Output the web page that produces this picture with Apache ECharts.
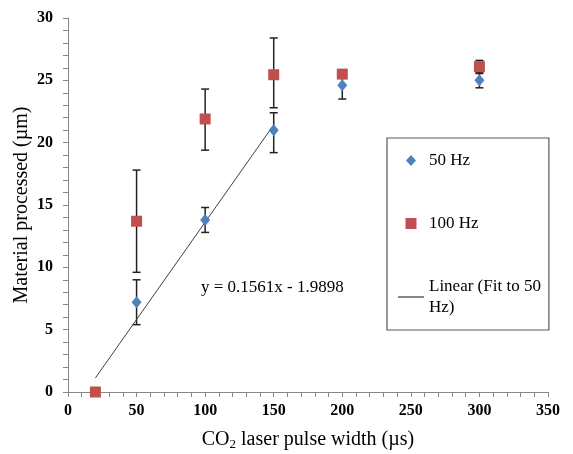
<!DOCTYPE html>
<html>
<head>
<meta charset="utf-8">
<script src="https://cdn.jsdelivr.net/npm/echarts@6/dist/echarts.min.js"></script>
<style>html,body{margin:0;padding:0;background:#fff}#c{width:573px;height:454px}</style>
</head>
<body>
<div id="c"></div>
<script>
// ---- data ----
const x50 = [50, 100, 150, 200, 300];
const y50 = [7.2, 13.8, 21.0, 24.6, 25.0];
const err50Low = [5.4, 12.8, 19.2, 23.5, 24.4];
const err50High = [9.0, 14.8, 22.4, 25.4, 25.6];

const x100 = [20, 50, 100, 150, 200, 300];
const y100 = [0, 13.7, 21.9, 25.45, 25.5, 26.1];
const err100Low = [null, 9.6, 19.4, 22.8, null, 25.55];
const err100High = [null, 17.8, 24.3, 28.4, null, 26.6];

const fitX = [20, 150];
const fitY = [1.13, 21.43];
const fitLabel = 'y = 0.1561x - 1.9898';

const xTicks = { min: 0, max: 350, interval: 50 };
const yTicks = { min: 0, max: 30, interval: 5 };

// ---- build ----
const pts = (xs, ys) => xs.map((x, i) => [x, ys[i]]);
const errs = (xs, lo, hi) => xs.map((x, i) => [x, lo[i], hi[i]]).filter(d => d[1] != null && d[2] != null);

const FONT = '"Liberation Serif", "Times New Roman", serif';

function errRender(params, api) {
  const x = api.value(0), lo = api.value(1), hi = api.value(2);
  const a = api.coord([x, lo]), b = api.coord([x, hi]);
  const c = 4;
  const st = { stroke: '#222', lineWidth: 1.5 };
  return {
    type: 'group',
    children: [
      { type: 'line', shape: { x1: a[0], y1: a[1], x2: b[0], y2: b[1] }, style: st },
      { type: 'line', shape: { x1: a[0] - c, y1: a[1], x2: a[0] + c, y2: a[1] }, style: st },
      { type: 'line', shape: { x1: b[0] - c, y1: b[1], x2: b[0] + c, y2: b[1] }, style: st }
    ]
  };
}

const axisCommon = {
  axisLine: { show: true, lineStyle: { color: '#868686', width: 1 } },
  axisTick: { show: true, inside: false, length: 5, lineStyle: { color: '#868686' } },
  minorTick: { show: true, splitNumber: 5, length: 5, lineStyle: { color: '#868686' } },
  splitLine: { show: false },
  axisLabel: { color: '#000', fontFamily: FONT, fontWeight: 'bold', fontSize: 16 },
  nameTextStyle: { color: '#000', fontFamily: FONT, fontSize: 20 },
  nameMoveOverlap: false
};

// legend icons padded to the full item width so the marker keeps its shape
const ICON_DIAMOND = 'path://M0,5.5L0.01,5.5L0,5.51Z M26,5.5L25.99,5.5L26,5.51Z M13,0L18,5.5L13,11L8,5.5Z';
const ICON_SQUARE = 'path://M0,5.5L0.01,5.5L0,5.51Z M26,5.5L25.99,5.5L26,5.51Z M7.5,0H18.5V11H7.5Z';
const ICON_LINE = 'path://M0,0H26V1.1H0Z';

const chart = echarts.init(document.getElementById('c'));
chart.setOption({
  animation: false,
  backgroundColor: '#fff',
  grid: { left: 68, right: 25, top: 18, bottom: 62, containLabel: false, outerBoundsMode: 'none' },
  xAxis: Object.assign({}, axisCommon, {
    type: 'value', min: xTicks.min, max: xTicks.max, interval: xTicks.interval,
    name: 'CO{sub|2} laser pulse width (µs)', nameLocation: 'middle', nameGap: 36,
    nameTextStyle: { color: '#000', fontFamily: FONT, fontSize: 20,
      rich: { sub: { fontFamily: FONT, fontSize: 13, verticalAlign: 'bottom', padding: [10, 0, 0, 0], color: '#000' } } },
    axisLabel: Object.assign({}, axisCommon.axisLabel, { margin: 11 })
  }),
  yAxis: Object.assign({}, axisCommon, {
    type: 'value', min: yTicks.min, max: yTicks.max, interval: yTicks.interval,
    name: 'Material processed (µm)', nameLocation: 'middle', nameGap: 36,
    axisLabel: Object.assign({}, axisCommon.axisLabel, { margin: 15 })
  }),
  legend: {
    orient: 'vertical', left: 387, top: 138,
    padding: [12, 8, 12, 11],
    itemWidth: 26, itemHeight: 11, itemGap: 42,
    borderColor: '#595959', borderWidth: 1.2,
    data: [
      { name: '50 Hz', icon: ICON_DIAMOND },
      { name: '100 Hz', icon: ICON_SQUARE },
      { name: 'Linear (Fit to 50 Hz)', icon: ICON_LINE, itemStyle: { color: '#222' } }
    ],
    formatter: n => n === 'Linear (Fit to 50 Hz)' ? 'Linear (Fit to 50\nHz)' : n,
    textStyle: { color: '#000', fontFamily: FONT, fontSize: 17, lineHeight: 21 }
  },
  graphic: [
    { type: 'text', left: 201, top: 279, style: { text: fitLabel, fill: '#000', font: '17px ' + FONT } }
  ],
  series: [
    { type: 'custom', name: 'err50', renderItem: errRender, data: errs(x50, err50Low, err50High),
      encode: { x: 0, y: [1, 2] }, z: 2, silent: true },
    { type: 'custom', name: 'err100', renderItem: errRender, data: errs(x100, err100Low, err100High),
      encode: { x: 0, y: [1, 2] }, z: 2, silent: true },
    { type: 'line', name: 'Linear (Fit to 50 Hz)', data: pts(fitX, fitY), symbol: 'none', showSymbol: false,
      lineStyle: { color: '#404040', width: 1 }, itemStyle: { color: '#404040' }, z: 3 },
    { type: 'scatter', name: '100 Hz', data: pts(x100, y100), symbol: 'rect', symbolSize: 11,
      itemStyle: { color: '#C0504D', opacity: 1 }, z: 4 },
    { type: 'scatter', name: '50 Hz', data: pts(x50, y50), symbol: 'diamond', symbolSize: [10, 12],
      itemStyle: { color: '#4F81BD', opacity: 1 }, z: 5 }
  ]
});
</script>
</body>
</html>
